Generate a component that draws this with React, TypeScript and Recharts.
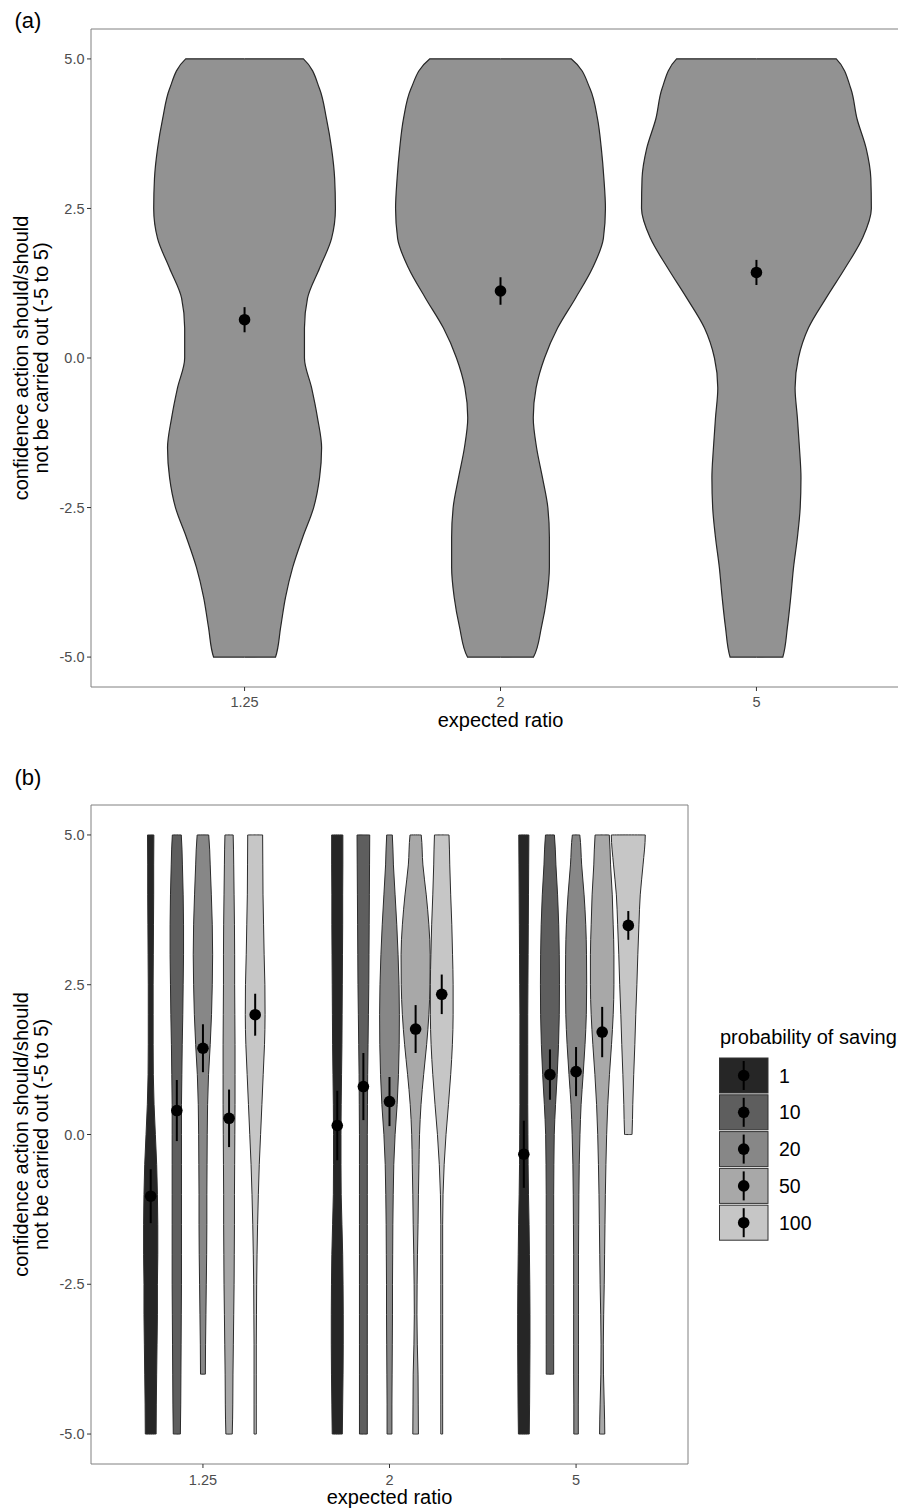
import { Area, ComposedChart, ErrorBar, ReferenceArea, Scatter, XAxis, YAxis } from 'recharts';

const FONT = '"Liberation Sans", Arial, Helvetica, sans-serif';

const ratioLabels = ['1.25', '2', '5'];
const savingLabels = ['1', '10', '20', '50', '100'];
const savingFills = ['#262626', '#5e5e5e', '#878787', '#a8a8a8', '#c6c6c6'];
const savingOffsets = [-0.28, -0.14, 0, 0.14, 0.28];

const profileLevels = [-5, -4.5, -4, -3.5, -3, -2.5, -2, -1.5, -1, -0.5, 0, 0.5, 1, 1.5, 2, 2.5, 3, 3.5, 4, 4.5, 5];
const yTicks = [-5, -2.5, 0, 2.5, 5];
const yTitleLines = ['confidence action should/should', 'not be carried out (-5 to 5)'];
const xTitle = 'expected ratio';
const legendTitle = 'probability of saving';

// panel (a): half-widths of each violin (category units), from -5 up to 5
const widthsA = [
  [0.121, 0.141, 0.16, 0.188, 0.227, 0.27, 0.293, 0.301, 0.285, 0.262, 0.234, 0.234, 0.246, 0.293, 0.34, 0.355, 0.352, 0.34, 0.32, 0.293, 0.23],
  [0.129, 0.16, 0.181, 0.191, 0.191, 0.185, 0.164, 0.141, 0.128, 0.139, 0.172, 0.223, 0.293, 0.359, 0.402, 0.41, 0.404, 0.394, 0.379, 0.35, 0.277],
  [0.103, 0.121, 0.134, 0.145, 0.16, 0.171, 0.174, 0.168, 0.16, 0.151, 0.164, 0.203, 0.272, 0.346, 0.414, 0.449, 0.447, 0.429, 0.393, 0.369, 0.312],
];
const meansA = [0.64, 1.12, 1.43];
const errorsA = [0.21, 0.23, 0.21];

// panel (b): [ratio][saving], each profile starts at lowB and steps up to 5
const widthsB = [
  [
    [0.029, 0.03, 0.032, 0.034, 0.036, 0.036, 0.038, 0.038, 0.036, 0.032, 0.025, 0.018, 0.014, 0.013, 0.013, 0.013, 0.014, 0.015, 0.016, 0.016, 0.017],
    [0.019, 0.021, 0.022, 0.023, 0.024, 0.025, 0.025, 0.025, 0.025, 0.025, 0.025, 0.025, 0.027, 0.029, 0.032, 0.034, 0.036, 0.036, 0.034, 0.03, 0.024],
    [0.013, 0.014, 0.016, 0.018, 0.02, 0.021, 0.021, 0.022, 0.023, 0.025, 0.03, 0.039, 0.046, 0.05, 0.052, 0.05, 0.045, 0.039, 0.031],
    [0.017, 0.02, 0.021, 0.023, 0.025, 0.027, 0.028, 0.029, 0.029, 0.03, 0.031, 0.032, 0.032, 0.032, 0.031, 0.03, 0.03, 0.029, 0.027, 0.025, 0.022],
    [0.006, 0.006, 0.006, 0.006, 0.007, 0.008, 0.01, 0.013, 0.017, 0.022, 0.029, 0.036, 0.043, 0.05, 0.053, 0.052, 0.048, 0.045, 0.042, 0.041, 0.04],
  ],
  [
    [0.027, 0.029, 0.031, 0.032, 0.032, 0.031, 0.029, 0.025, 0.021, 0.02, 0.02, 0.021, 0.023, 0.025, 0.026, 0.027, 0.028, 0.029, 0.029, 0.03, 0.03],
    [0.021, 0.021, 0.021, 0.021, 0.021, 0.021, 0.021, 0.021, 0.021, 0.021, 0.021, 0.022, 0.023, 0.025, 0.027, 0.029, 0.03, 0.031, 0.032, 0.033, 0.034],
    [0.013, 0.013, 0.014, 0.015, 0.016, 0.016, 0.017, 0.018, 0.02, 0.023, 0.03, 0.041, 0.048, 0.052, 0.053, 0.051, 0.046, 0.039, 0.03, 0.021, 0.015],
    [0.015, 0.014, 0.013, 0.009, 0.007, 0.008, 0.01, 0.013, 0.015, 0.018, 0.021, 0.029, 0.043, 0.059, 0.071, 0.077, 0.078, 0.071, 0.057, 0.039, 0.03],
    [0.005, 0.005, 0.005, 0.005, 0.005, 0.005, 0.005, 0.005, 0.007, 0.013, 0.023, 0.036, 0.048, 0.057, 0.061, 0.061, 0.058, 0.054, 0.048, 0.043, 0.039],
  ],
  [
    [0.029, 0.031, 0.032, 0.033, 0.033, 0.032, 0.03, 0.028, 0.025, 0.023, 0.022, 0.021, 0.021, 0.021, 0.021, 0.022, 0.023, 0.024, 0.025, 0.026, 0.027],
    [0.02, 0.02, 0.02, 0.02, 0.02, 0.02, 0.02, 0.021, 0.023, 0.03, 0.039, 0.046, 0.05, 0.051, 0.05, 0.047, 0.041, 0.032, 0.024],
    [0.012, 0.012, 0.013, 0.013, 0.013, 0.013, 0.013, 0.014, 0.015, 0.017, 0.021, 0.027, 0.038, 0.048, 0.055, 0.057, 0.056, 0.052, 0.043, 0.03, 0.02],
    [0.014, 0.011, 0.007, 0.006, 0.008, 0.011, 0.013, 0.015, 0.017, 0.02, 0.024, 0.03, 0.039, 0.05, 0.059, 0.063, 0.063, 0.059, 0.054, 0.045, 0.038],
    [0.02, 0.024, 0.029, 0.035, 0.04, 0.046, 0.051, 0.057, 0.064, 0.079, 0.091],
  ],
];
const lowB = [
  [-5, -5, -4, -5, -5],
  [-5, -5, -5, -5, -5],
  [-5, -4, -5, -5, 0],
];
const meansB = [
  [-1.03, 0.4, 1.44, 0.27, 2.0],
  [0.15, 0.8, 0.55, 1.76, 2.34],
  [-0.33, 1.0, 1.05, 1.71, 3.49],
];
const errorsB = [
  [0.45, 0.51, 0.4, 0.48, 0.35],
  [0.58, 0.56, 0.41, 0.4, 0.33],
  [0.56, 0.42, 0.41, 0.42, 0.24],
];

// tiny step so the flat top and bottom of a trimmed violin get an outline
const CAP = 0.001;

function violinRows(center: number, halfWidths: number[], low: number) {
  const start = profileLevels.indexOf(low);
  const rows = halfWidths.map((w, i) => ({ y: profileLevels[start + i], band: [center - w, center + w] }));
  const first = rows[0].y;
  const last = rows[rows.length - 1].y;
  return [{ y: first - CAP, band: [center, center] }, ...rows, { y: last + CAP, band: [center, center] }];
}

function YTitle({ viewBox }: any) {
  const cy = viewBox.y + viewBox.height / 2;
  return (
    <text transform={`translate(0, ${cy}) rotate(-90)`} textAnchor="middle" fontSize={20} fill="#000">
      <tspan x={0} y={27.5}>{yTitleLines[0]}</tspan>
      <tspan x={0} y={48}>{yTitleLines[1]}</tspan>
    </text>
  );
}

const MeanDot = (p: any) => <circle cx={p.cx} cy={p.cy} r={5.8} fill="#000" />;

const tickStyle = { fontSize: 14.5, fill: '#4d4d4d' };

function axes(xHeight: number, tickMargin: number, titleOffset: number) {
  return [
    <XAxis
      key="x"
      type="number"
      height={xHeight}
      domain={[0.4, 3.6]}
      ticks={[1, 2, 3]}
      allowDataOverflow
      tickFormatter={(v) => ratioLabels[v - 1]}
      axisLine={false}
      tickLine={{ stroke: '#333' }}
      tickSize={4}
      tickMargin={tickMargin}
      fontSize={14.5}
      tick={tickStyle}
      label={{ value: xTitle, position: 'insideBottom', offset: titleOffset, fontSize: 20, fill: '#000' }}
    />,
    <YAxis
      key="y"
      type="number"
      dataKey="y"
      width={91}
      reversed
      domain={[-5.5, 5.5]}
      ticks={yTicks}
      allowDataOverflow
      tickFormatter={(v) => v.toFixed(1)}
      axisLine={false}
      tickLine={{ stroke: '#333' }}
      tickSize={4}
      tickMargin={2.5}
      fontSize={14.5}
      tick={tickStyle}
      label={<YTitle />}
    />,
    <ReferenceArea key="frame" x1={0.4} x2={3.6} y1={-5.5} y2={5.5} fill="none" stroke="#808080" strokeWidth={1} ifOverflow="visible" />,
  ];
}

function PanelA() {
  const points = meansA.map((m, i) => ({ x: i + 1, y: m, err: errorsA[i] }));
  return (
    <ComposedChart layout="vertical" width={920} height={745} margin={{ top: 29, right: 10, bottom: 0, left: 0 }} style={{ fontFamily: FONT }}>
      {axes(58, 6, 18)}
      {widthsA.map((w, i) => (
        <Area
          key={ratioLabels[i]}
          data={violinRows(i + 1, w, -5)}
          dataKey="band"
          type="monotone"
          fill="#929292"
          fillOpacity={1}
          stroke="#262626"
          strokeWidth={1.2}
          dot={false}
          activeDot={false}
          isAnimationActive={false}
        />
      ))}
      <Scatter data={points} dataKey="x" shape={MeanDot} isAnimationActive={false}>
        <ErrorBar dataKey="err" direction="y" width={0} stroke="#000" strokeWidth={2} isAnimationActive={false} />
      </Scatter>
    </ComposedChart>
  );
}

function PanelB() {
  const points = meansB.flatMap((row, r) =>
    row.map((m, s) => ({ x: r + 1 + savingOffsets[s], y: m, err: errorsB[r][s] })),
  );
  return (
    <ComposedChart layout="vertical" width={700} height={750} margin={{ top: 45, right: 12, bottom: 0, left: 0 }} style={{ fontFamily: FONT }}>
      {axes(46, 7, 6)}
      {widthsB.flatMap((group, r) =>
        group.map((w, s) => (
          <Area
            key={`${r}-${s}`}
            data={violinRows(r + 1 + savingOffsets[s], w, lowB[r][s])}
            dataKey="band"
            type="monotone"
            fill={savingFills[s]}
            fillOpacity={1}
            stroke="#2b2b2b"
            strokeWidth={1}
            dot={false}
            activeDot={false}
            isAnimationActive={false}
          />
        )),
      )}
      <Scatter data={points} dataKey="x" shape={MeanDot} isAnimationActive={false}>
        <ErrorBar dataKey="err" direction="y" width={0} stroke="#000" strokeWidth={2} isAnimationActive={false} />
      </Scatter>
    </ComposedChart>
  );
}

function SavingLegend() {
  const rowH = 36.8;
  return (
    <svg width={198} height={260} style={{ fontFamily: FONT, display: 'block' }}>
      <text x={20} y={44} fontSize={20} fill="#000">{legendTitle}</text>
      {savingLabels.map((label, i) => {
        const top = 58 + i * rowH;
        const cy = top + 17.5;
        return (
          <g key={label}>
            <rect x={19.5} y={top} width={48.5} height={35} fill={savingFills[i]} stroke="#333" strokeWidth={1} />
            <line x1={43.7} x2={43.7} y1={top + 3} y2={top + 32} stroke="#000" strokeWidth={2} />
            <circle cx={43.7} cy={cy} r={5.8} fill="#000" />
            <text x={79} y={cy + 7} fontSize={19.5} fill="#000">{label}</text>
          </g>
        );
      })}
    </svg>
  );
}

export default function App() {
  return (
    <div style={{ position: 'relative', width: 898, height: 1510, overflow: 'hidden', background: '#fff', fontFamily: FONT }}>
      <style>{'body{margin:0}'}</style>
      <div style={{ position: 'absolute', left: 0, top: 0 }}>
        <PanelA />
      </div>
      <div style={{ position: 'absolute', left: 0, top: 760 }}>
        <PanelB />
      </div>
      <div style={{ position: 'absolute', left: 700, top: 1000 }}>
        <SavingLegend />
      </div>
      <div style={{ position: 'absolute', left: 14.5, top: 10.4, fontSize: 22, lineHeight: '22px' }}>(a)</div>
      <div style={{ position: 'absolute', left: 14.5, top: 767, fontSize: 22, lineHeight: '22px' }}>(b)</div>
    </div>
  );
}
